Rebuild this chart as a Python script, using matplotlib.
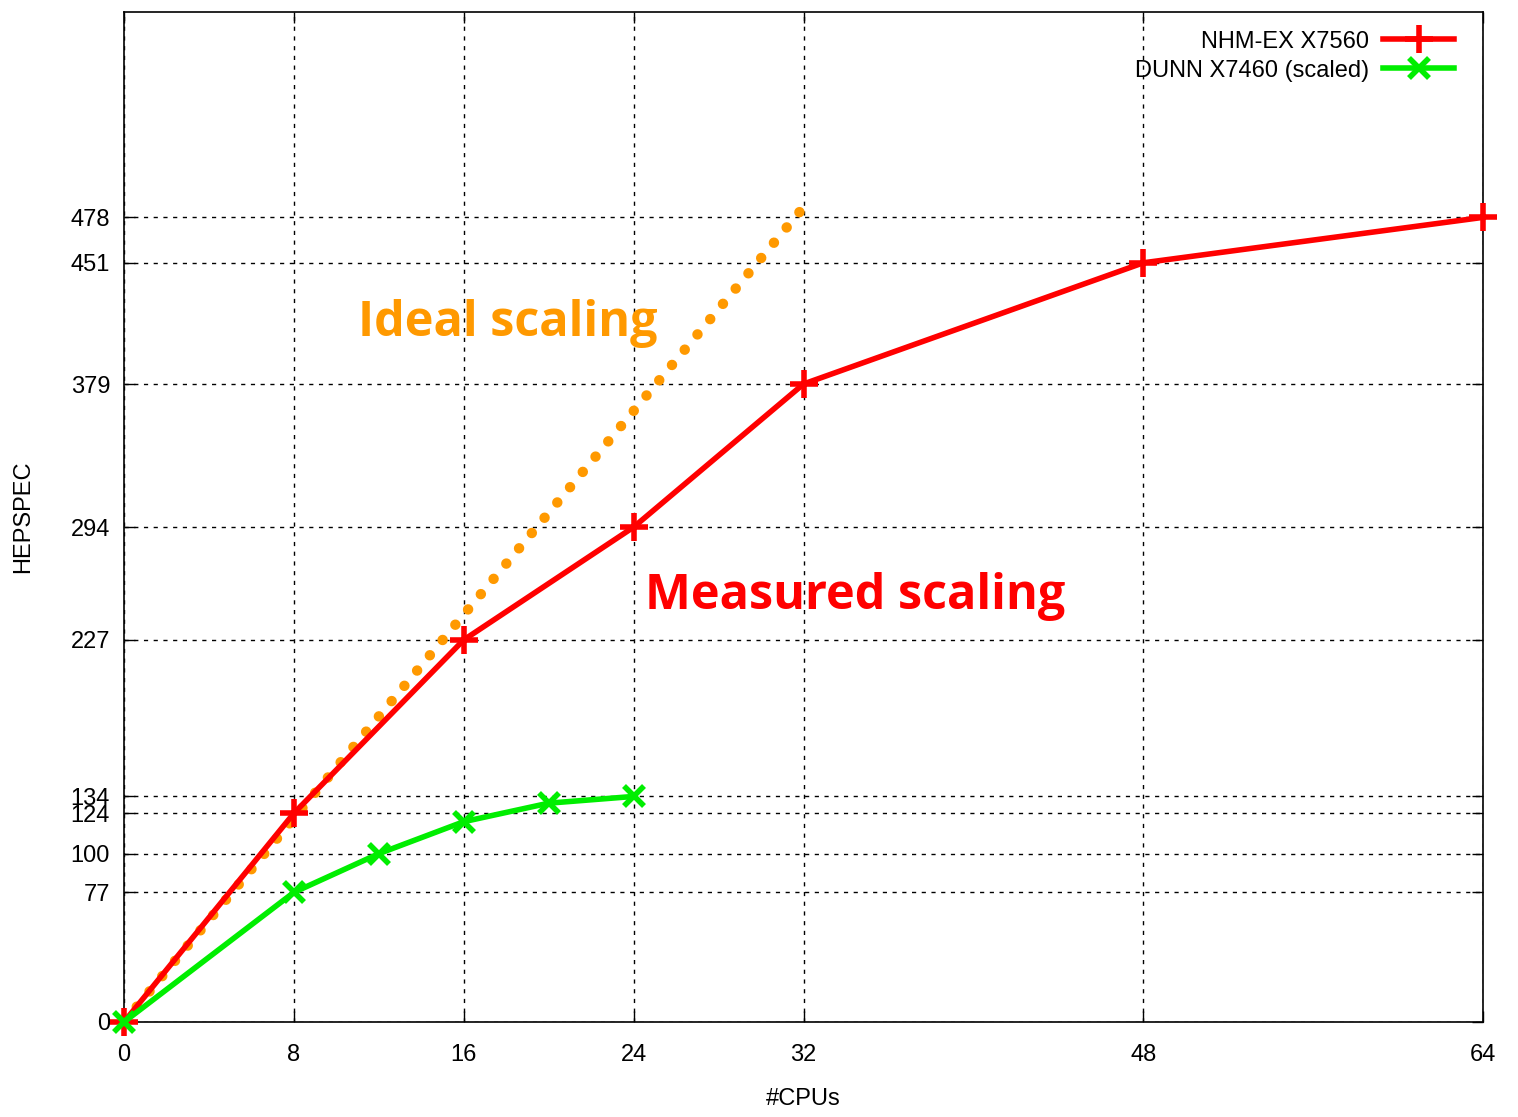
import matplotlib
matplotlib.use("Agg")
import matplotlib.pyplot as plt

cpus_nhm = [0, 8, 16, 24, 32, 48, 64]
hepspec_nhm = [0, 124, 227, 294, 379, 451, 478]
cpus_dunn = [0, 8, 12, 16, 20, 24]
hepspec_dunn = [0, 77, 100, 119, 130, 134]
cpus_ideal = [0, 32]
hepspec_ideal = [0, 484]
xticks = [0, 8, 16, 24, 32, 48, 64]
yticks = [0, 77, 100, 124, 134, 227, 294, 379, 451, 478]

plt.rcParams['font.family'] = ['Liberation Sans', 'DejaVu Sans']
fig = plt.figure(figsize=(15.18, 11.17), dpi=100)
ax = fig.add_axes([124/1518, 95/1117, (1483-124)/1518, (1022-12)/1117])

ax.plot(cpus_ideal, hepspec_ideal, color='#ff9900', lw=7.5, linestyle=(0, (0.01, 1.9)),
        dash_capstyle='round', zorder=2)
ax.plot(cpus_nhm, hepspec_nhm, color='#ff0000', lw=4, marker='+', ms=20, mew=4,
        label='NHM-EX X7560', zorder=3, clip_on=False)
ax.plot(cpus_dunn, hepspec_dunn, color='#00ee00', lw=4, marker='x', ms=14, mew=4,
        label='DUNN X7460 (scaled)', zorder=3, clip_on=False)

ax.set_xlim(0, 64)
ax.set_ylim(0, 600)
ax.set_xticks(xticks)
ax.set_yticks(yticks)
ax.tick_params(direction='in', length=8, width=1, labelsize=17, top=True, right=True)
ax.tick_params(axis='x', pad=16)
ax.tick_params(axis='y', pad=10)
ax.grid(True, color='black', linestyle=(0, (3, 4)), lw=1)
for s in ax.spines.values():
    s.set_linewidth(1.2)

ax.set_xlabel('#CPUs', fontsize=17, labelpad=16)
ax.set_ylabel('HEPSPEC', fontsize=17, labelpad=26)

ax.text(18.07, 415, 'Ideal scaling', color='#ff9900', fontsize=35, fontweight='bold',
        family=['Open Sans', 'DejaVu Sans'], ha='center', va='center')
ax.text(34.45, 253, 'Measured scaling', color='#ff0000', fontsize=35, fontweight='bold',
        family=['Open Sans', 'DejaVu Sans'], ha='center', va='center')

leg = ax.legend(loc='upper right', bbox_to_anchor=(0.991, 0.998), frameon=False,
                markerfirst=False, fontsize=17, handlelength=3.0, borderaxespad=0.3,
                labelspacing=0.3, handletextpad=0.6)

fig.savefig('out.png', dpi=100)
